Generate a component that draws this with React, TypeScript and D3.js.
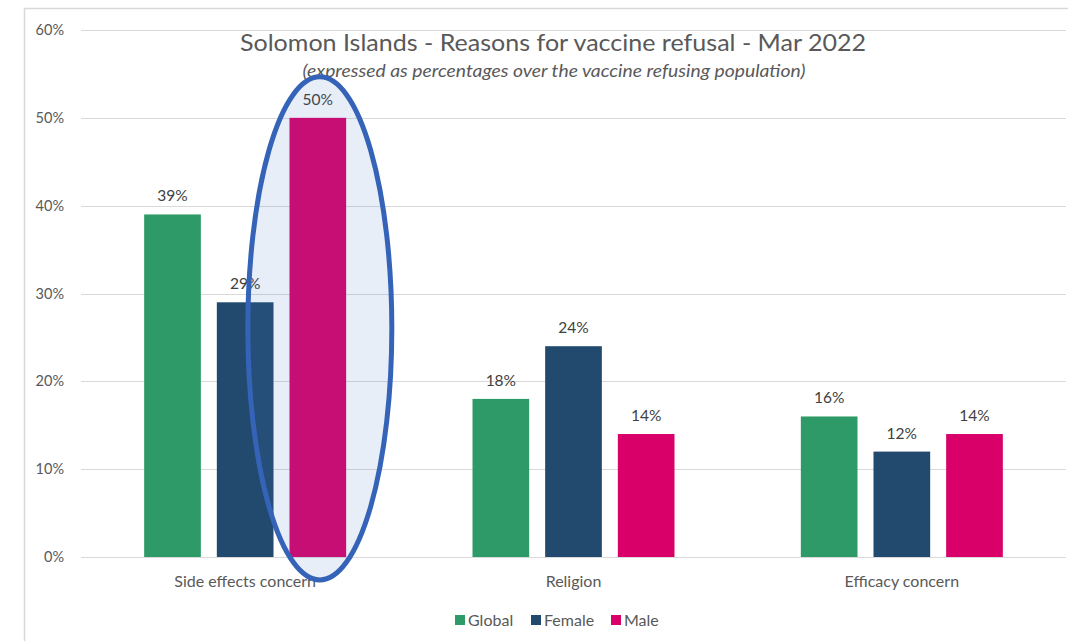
import * as d3 from 'd3';
import React from 'react';

// Chart data
const categories = ['Side effects concern', 'Religion', 'Efficacy concern'];
const seriesNames = ['Global', 'Female', 'Male'];
const globalValues = [39, 18, 16];
const femaleValues = [29, 24, 12];
const maleValues = [50, 14, 14];
const yTicks = [0, 10, 20, 30, 40, 50, 60];

const seriesValues = [globalValues, femaleValues, maleValues];
const colors = ['#2E9A67', '#214A6E', '#D9006A'];

const width = 1068;
const height = 641;
const font = 'Lato, "Open Sans", sans-serif';

const App = () => {
   const plotLeft = 81;
   const plotRight = 1066;
   const groupWidth = 202;

   const y = d3.scaleLinear().domain([0, 60]).range([557, 30]);
   const x0 = d3.scaleBand<string>().domain(categories).range([plotLeft, plotRight]);
   const x1 = d3
      .scaleBand<string>()
      .domain(seriesNames)
      .range([0, groupWidth])
      .paddingInner(0.22);
   const groupOffset = (x0.bandwidth() - groupWidth) / 2;

   // highlight ellipse around the male bar of the first category
   const hlX = (x0(categories[0]) ?? 0) + groupOffset + (x1('Male') ?? 0) + x1.bandwidth() / 2 + 2;
   const hlTop = y(50) - 41;
   const hlBottom = y(0) + 23;

   const legendItems = [
      { name: seriesNames[0], x: 455 },
      { name: seriesNames[1], x: 531 },
      { name: seriesNames[2], x: 611 },
   ];

   return (
      <svg
         width={width}
         height={height}
         style={{ position: 'absolute', left: 0, top: 0, background: '#fff' }}
         fontFamily={font}
      >
         {/* frame */}
         <line x1={24} x2={width} y1={8.5} y2={8.5} stroke="#D9D9D9" strokeWidth={1.5} />
         <line x1={24.5} x2={24.5} y1={8} y2={height} stroke="#D9D9D9" strokeWidth={1.5} />

         {/* gridlines and y labels */}
         {yTicks.map((t) => (
            <g key={t}>
               <line
                  x1={plotLeft}
                  x2={plotRight}
                  y1={Math.round(y(t)) + 0.5}
                  y2={Math.round(y(t)) + 0.5}
                  stroke="#D9D9D9"
                  strokeWidth={1.2}
               />
               <text x={64} y={y(t)} dy="0.35em" textAnchor="end" fontSize={14.5} fill="#595959">
                  {t}%
               </text>
            </g>
         ))}

         {/* bars */}
         {categories.map((c, ci) => (
            <g key={c} transform={`translate(${(x0(c) ?? 0) + groupOffset},0)`}>
               {seriesNames.map((s, si) => {
                  const v = seriesValues[si][ci];
                  const bx = x1(s) ?? 0;
                  return (
                     <g key={s}>
                        <rect
                           x={bx}
                           y={y(v)}
                           width={x1.bandwidth()}
                           height={y(0) - y(v)}
                           fill={colors[si]}
                        />
                        <text
                           x={bx + x1.bandwidth() / 2}
                           y={y(v) - 13}
                           textAnchor="middle"
                           fontSize={15.5}
                           fill="#404040"
                        >
                           {v}%
                        </text>
                     </g>
                  );
               })}
            </g>
         ))}

         {/* category labels */}
         {categories.map((c) => (
            <text
               key={c}
               x={(x0(c) ?? 0) + x0.bandwidth() / 2}
               y={587}
               textAnchor="middle"
               fontSize={16}
               fill="#595959"
            >
               {c}
            </text>
         ))}

         {/* titles */}
         <text
            x={553}
            y={51}
            textAnchor="middle"
            fontSize={24}
            fill="#595959"
            textLength={626}
            lengthAdjust="spacingAndGlyphs"
         >
            Solomon Islands - Reasons for vaccine refusal - Mar 2022
         </text>
         <text
            x={554}
            y={77}
            textAnchor="middle"
            fontSize={16.5}
            fontStyle="italic"
            fill="#595959"
            textLength={503}
            lengthAdjust="spacingAndGlyphs"
         >
            (expressed as percentages over the vaccine refusing population)
         </text>

         {/* highlight ellipse */}
         <ellipse
            cx={hlX}
            cy={(hlTop + hlBottom) / 2}
            rx={72}
            ry={(hlBottom - hlTop) / 2}
            fill="#4472C4"
            fillOpacity={0.12}
            stroke="#3563B8"
            strokeWidth={5}
         />

         {/* legend */}
         {legendItems.map((l, i) => (
            <g key={l.name} transform={`translate(${l.x},615)`}>
               <rect x={0} y={0} width={10} height={10} fill={colors[i]} />
               <text x={13} y={5} dy="0.35em" fontSize={16} fill="#595959">
                  {l.name}
               </text>
            </g>
         ))}
      </svg>
   );
};

export default App;
